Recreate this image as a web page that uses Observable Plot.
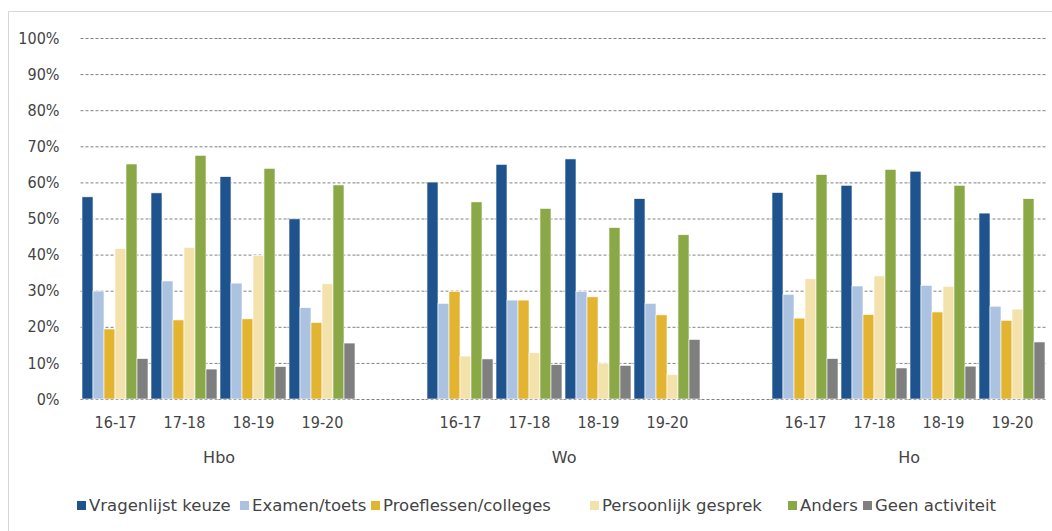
<!DOCTYPE html>
<html>
<head>
<meta charset="utf-8">
<script src="https://cdn.jsdelivr.net/npm/d3@7"></script>
<script src="https://cdn.jsdelivr.net/npm/@observablehq/plot@0.6"></script>
<style>
  body { margin: 0; background: #fff; font-family: "DejaVu Sans", sans-serif; }
  #wrap { position: relative; width: 1052px; height: 531px; overflow: hidden; }
  #frame { position: absolute; left: 8px; top: 11px; width: 1200px; height: 700px; border: 1px solid #d6d6d6; box-sizing: border-box; }
  #chart { position: absolute; left: 0; top: 0; }
  #legend { position: absolute; left: 77px; top: 489px; white-space: nowrap; }
  #legend .lg-swatch { margin-right: 0 !important; font-size: 16.5px; color: #444; font-family: "DejaVu Sans", sans-serif; box-sizing: border-box; display: inline-flex; }
  #legend .lg-swatch > svg { margin-right: 3px !important; }
  #legend span.lg-swatch:nth-of-type(1) { width: 163px; }
  #legend span.lg-swatch:nth-of-type(2) { width: 131px; }
  #legend span.lg-swatch:nth-of-type(3) { width: 219px; }
  #legend span.lg-swatch:nth-of-type(4) { width: 198px; }
  #legend span.lg-swatch:nth-of-type(5) { width: 75px; }
</style>
</head>
<body>
<div id="wrap">
  <div id="frame"></div>
  <div id="chart"></div>
  <div id="legend"></div>
</div>
<script>
const groups = ["Hbo", "Wo", "Ho"];
const years = ["16-17", "17-18", "18-19", "19-20"];
const series = ["Vragenlijst keuze", "Examen/toets", "Proeflessen/colleges", "Persoonlijk gesprek", "Anders", "Geen activiteit"];
const colors = ["#1f538d", "#abc2e0", "#e3b430", "#f4e2ad", "#8aa946", "#7f7f7f"];
const yTicks = [0, 10, 20, 30, 40, 50, 60, 70, 80, 90, 100];

// Values per series, in order Hbo (16-17..19-20), Wo (..), Ho (..)
const vragenlijstKeuze    = [56.0, 57.1, 61.6, 49.9,  60.1, 65.0, 66.5, 55.5,  57.2, 59.2, 63.1, 51.5];
const examenToets         = [29.9, 32.7, 32.1, 25.3,  26.5, 27.4, 29.8, 26.5,  29.0, 31.3, 31.5, 25.7];
const proeflessenColleges = [19.4, 21.9, 22.2, 21.2,  29.8, 27.4, 28.3, 23.3,  22.4, 23.4, 24.1, 21.8];
const persoonlijkGesprek  = [41.7, 42.0, 39.8, 31.9,  11.9, 12.8,  9.9,  6.8,  33.3, 34.1, 31.2, 24.9];
const anders              = [65.1, 67.5, 63.9, 59.3,  54.6, 52.8, 47.5, 45.5,  62.2, 63.6, 59.2, 55.5];
const geenActiviteit      = [11.2,  8.3,  9.0, 15.5,  11.1,  9.5,  9.3, 16.5,  11.2,  8.6,  9.1, 15.8];

const seriesValues = [vragenlijstKeuze, examenToets, proeflessenColleges, persoonlijkGesprek, anders, geenActiviteit];

// category slots: each group's years, with an empty slot between groups
const slots = [];
groups.forEach((g, gi) => {
  if (gi > 0) slots.push("gap" + gi);
  years.forEach(y => slots.push(g + " " + y));
});

const rows = [];
groups.forEach((g, gi) => {
  years.forEach((y, yi) => {
    series.forEach((s, si) => {
      rows.push({slot: g + " " + y, series: s, value: seriesValues[si][gi * years.length + yi]});
    });
  });
});

// gridlines in every slot (including the empty ones between groups)
const grid = slots.flatMap(slot => yTicks.map(t => ({slot, t})));

const narrow = "'DejaVu Sans Condensed', 'Liberation Sans Narrow', 'DejaVu Sans', sans-serif";

const chart = Plot.plot({
  width: 1052,
  height: 531,
  marginLeft: 77,
  marginRight: 1,
  marginTop: 38,
  marginBottom: 132,
  style: {fontFamily: "'DejaVu Sans', sans-serif", fontSize: "17px", color: "#444", background: "transparent"},
  fx: {domain: slots, paddingInner: 0.04, paddingOuter: 0, label: null},
  x: {domain: series, padding: 0, axis: null},
  y: {domain: [0, 100], label: null},
  color: {domain: series, range: colors},
  marks: [
    Plot.ruleY(grid, {fx: "slot", y: "t", stroke: "#808080", strokeWidth: 1, strokeDasharray: "3,2", insetLeft: -1.5, insetRight: -1.5}),
    Plot.barY(rows, {fx: "slot", x: "series", y: "value", fill: "series", stroke: "#ffffff", strokeWidth: 0.6}),
    Plot.axisY({ticks: yTicks, tickSize: 0, tickPadding: 23, tickFormat: d => d + "%", label: null,
                facetAnchor: "left", fontFamily: narrow, fontSize: 16, fill: "#444"}),
    Plot.axisFx({anchor: "bottom", tickSize: 0, tickPadding: 17, label: null,
                 tickFormat: d => d.startsWith("gap") ? "" : d.split(" ")[1],
                 fontFamily: narrow, fontSize: 16, fill: "#444"}),
    Plot.text(groups, {fx: g => g + " 18-19", text: d => d, frameAnchor: "bottom-left", textAnchor: "middle",
                       dx: -1.4, dy: 63, fontSize: 16, fill: "#444"})
  ]
});
document.getElementById("chart").appendChild(chart);

const legend = chart.legend("color", {swatchSize: 9, className: "lg"});
document.getElementById("legend").appendChild(legend);
</script>
</body>
</html>
